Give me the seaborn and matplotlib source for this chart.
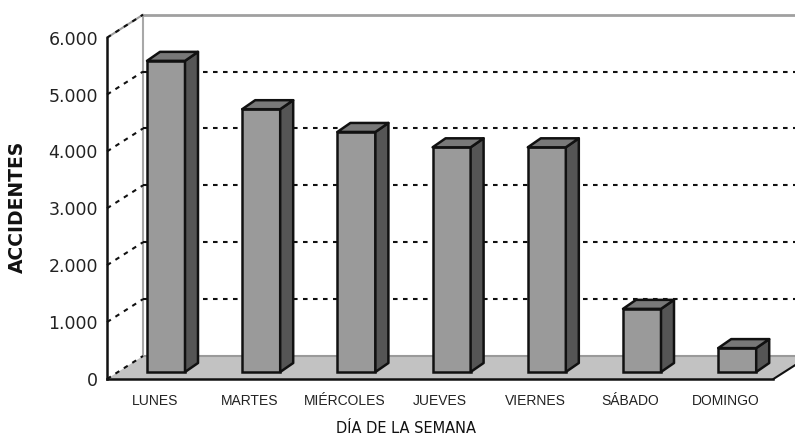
import matplotlib
matplotlib.use("Agg")
import matplotlib.pyplot as plt
from matplotlib.patches import Polygon
import seaborn as sns
import pandas as pd

# ---- data ----
dias = ["LUNES", "MARTES", "MIÉRCOLES", "JUEVES", "VIERNES", "SÁBADO", "DOMINGO"]
accidentes = [5470, 4620, 4220, 3950, 3950, 1110, 420]
y_ticks = [0, 1000, 2000, 3000, 4000, 5000, 6000]
y_ticklabels = [f"{v:,}".replace(",", ".") for v in y_ticks]
x_title = "DÍA DE LA SEMANA"
y_title = "ACCIDENTES"

df = pd.DataFrame({"dia": dias, "acc": accidentes})

# ---- layout (pixel-based) ----
W, H, DPI = 795, 436, 100
px_x = 95.2               # pixels per category slot
px_y = 341.3 / 6000.0     # pixels per unit
bar0_px = 166.0           # pixel x of first bar centre
zero_px = 379.0           # pixel y (from top) of value 0 on front axis
slot0_px = 107.0          # pixel x of front y-axis

def dx(p):
    return p / px_x

def dy(p):
    return p / px_y

x0 = dx(slot0_px - bar0_px)          # front-left corner in data x
n = len(dias)
Dx, Dy = dx(36), dy(23)              # full depth of the box
fdx, fdy = dx(11), dy(7)             # depth at which bar fronts sit
bdx, bdy = dx(13), dy(9)             # bar depth

sns.set_style("white")
plt.rcParams["font.family"] = ["DejaVu Sans"]

fig = plt.figure(figsize=(W / DPI, H / DPI), dpi=DPI)
ax = fig.add_axes([0, 0, 1, 1])

front_c, side_c, top_c = "#9a9a9a", "#555555", "#787878"

sns.barplot(data=df, x="dia", y="acc", color=front_c, saturation=1,
            width=dx(38), bottom=fdy, edgecolor="#111111", linewidth=1.8,
            ax=ax, zorder=5)

xlim = (-bar0_px / px_x, (W - bar0_px) / px_x)
ylim = (-(H - zero_px) / px_y, zero_px / px_y)

# floor
floor = Polygon([(x0, 0), (x0 + n, 0), (x0 + n + Dx, Dy), (x0 + Dx, Dy)],
                closed=True, facecolor="#c2c2c2", edgecolor="none", zorder=1)
ax.add_patch(floor)
ax.plot([x0 + Dx, xlim[1]], [Dy, Dy], color="#9a9a9a", lw=1.5, zorder=1.5,
        solid_capstyle="butt")
ax.plot([x0 + n, x0 + n + Dx], [0, Dy], color="#111111", lw=1.5, zorder=2)

# back wall & side wall
top_v = y_ticks[-1]
ax.plot([x0 + Dx, x0 + Dx], [Dy, top_v + Dy], color="#a8a8a8", lw=1.5, zorder=1.5)
ax.plot([x0 + Dx, xlim[1]], [top_v + Dy, top_v + Dy], color="#a0a0a0", lw=2.0, zorder=1.5)
ax.plot([x0, x0 + Dx], [top_v, top_v + Dy], color="#a0a0a0", lw=1.5, zorder=1.5)
dots = (0, (2.2, 2.6))
for v in y_ticks:
    ax.plot([x0, x0 + Dx], [v, v + Dy], color="#111111", lw=1.5,
            linestyle=dots, zorder=2)
    if 0 < v < top_v:
        ax.plot([x0 + Dx, xlim[1]], [v + Dy, v + Dy], color="#111111", lw=1.5,
                linestyle=dots, zorder=2)

# 3D faces derived from the seaborn bars
for p in list(ax.patches):
    if p is floor:
        continue
    x, w = p.get_x(), p.get_width()
    b, h = p.get_y(), p.get_height()
    side = Polygon([(x + w, b), (x + w + bdx, b + bdy), (x + w + bdx, b + h + bdy),
                    (x + w, b + h)], closed=True, facecolor=side_c,
                   edgecolor="#111111", lw=1.8, zorder=5, joinstyle="round")
    top = Polygon([(x, b + h), (x + bdx, b + h + bdy), (x + w + bdx, b + h + bdy),
                   (x + w, b + h)], closed=True, facecolor=top_c,
                  edgecolor="#111111", lw=1.8, zorder=5, joinstyle="round")
    ax.add_patch(side)
    ax.add_patch(top)

ax.set_xlim(*xlim)
ax.set_ylim(*ylim)

# axes spines as the front axes
for s in ["top", "right"]:
    ax.spines[s].set_visible(False)
ax.spines["left"].set_position(("data", x0))
ax.spines["left"].set_bounds(0, top_v)
ax.spines["bottom"].set_position(("data", 0))
ax.spines["bottom"].set_bounds(x0, x0 + n)
for s in ["left", "bottom"]:
    ax.spines[s].set_color("#111111")
    ax.spines[s].set_linewidth(1.8)
    ax.spines[s].set_zorder(6)

ax.set_yticks(y_ticks)
ax.set_yticklabels(y_ticklabels, fontsize=12.5, color="#222222")
ax.tick_params(axis="y", direction="out", length=5, width=1.5, pad=1.5, color="#111111")

ax.set_xticks([x0 + k for k in range(n + 1)])
ax.set_xticklabels([""] * (n + 1))
ax.set_xticks([x0 + 0.5 + k for k in range(n)], minor=True)
ax.set_xticklabels(dias, minor=True, fontsize=10, color="#222222",
                   family=["Liberation Sans Narrow", "Liberation Sans"])
ax.tick_params(axis="x", which="major", direction="out", length=4, width=1.5, color="#111111")
ax.tick_params(axis="x", which="minor", length=0, pad=11)

ax.set_xlabel(x_title, fontsize=10.5, color="#111111")
ax.xaxis.set_label_coords(406 / W, (H - 421) / H)
ax.set_ylabel(y_title, fontsize=13.5, fontweight="bold", color="#111111")
ax.yaxis.set_label_coords(27 / W, (H - 207) / H)

ax.set_facecolor("white")
fig.savefig("out.png", dpi=DPI, facecolor="white")
